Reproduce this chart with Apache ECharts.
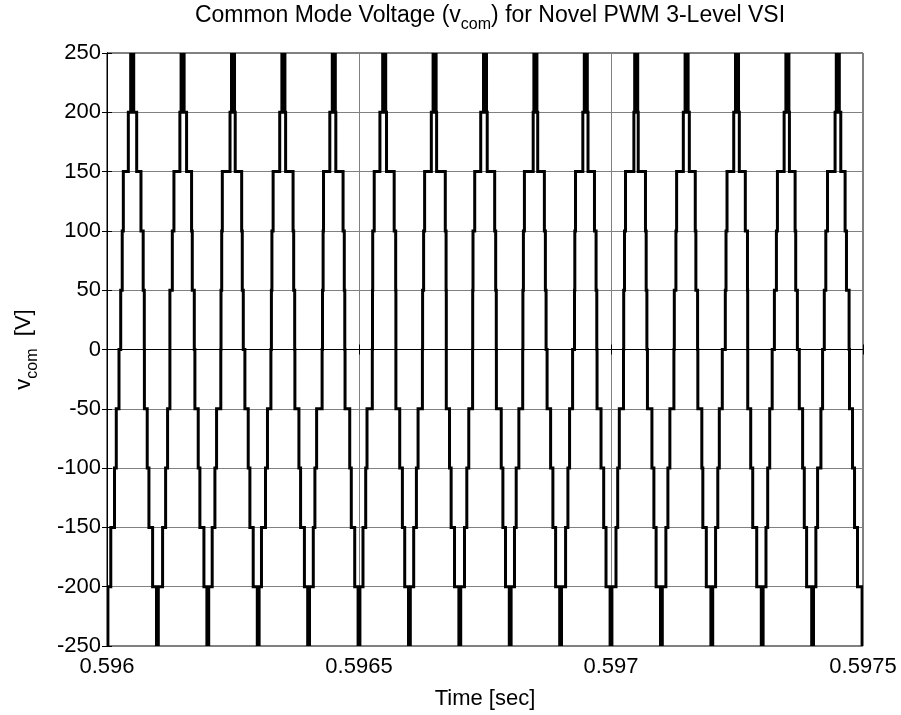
<!DOCTYPE html>
<html>
<head>
<meta charset="utf-8">
<script src="https://cdn.jsdelivr.net/npm/echarts@6/dist/echarts.min.js"></script>
<style>
html,body{margin:0;padding:0;background:#fff;}
#c{width:901px;height:715px;}
</style>
</head>
<body>
<div id="c"></div>
<script>
// ---- data (time in microseconds after 0.596 s) ----
const levels = [-250, -200, -150, -100, -50, 0, 50, 100, 150, 200, 250];
const valleyUs = [0, 100, 200, 300, 400, 500, 600, 700, 800, 900, 1000, 1100, 1200, 1300, 1400, 1500];
const peakUs = [50, 150, 250, 350, 450, 550, 650, 750, 850, 950, 1050, 1150, 1250, 1350, 1450];
const xTicks = ['0.596', '0.5965', '0.597', '0.5975'];
// delay after valley for rising steps through bands -250..0 (per period)
const valleyLag = [
  [1.8, 7.5, 14.9, 18.4, 23.8],
  [1.8, 10.3, 16.3, 20.2, 24.8],
  [1.8, 8.7, 14.1, 17.4, 25.8],
  [1.8, 6.5, 14.5, 18.4, 25.2],
  [1.8, 9.3, 12.5, 15.9, 26.8],
  [1.8, 7.9, 13.3, 15.9, 26.4],
  [1.8, 8.5, 13.9, 17.2, 25.8],
  [1.8, 9.3, 13.9, 17.8, 25.4],
  [1.8, 8.5, 11.9, 17.2, 24.8],
  [1.8, 9.9, 14.5, 17.8, 23.8],
  [1.8, 9.9, 13.3, 16.5, 24.8],
  [1.8, 8.9, 12.9, 16.8, 24.8],
  [1.8, 7.5, 11.9, 14.9, 20.8],
  [1.8, 7.5, 10.9, 14.9, 19.8],
  [1.8, 6.5, 9.9, 16.5, 19.8]
];
// lead before peak for rising steps through bands 0..250
const peakLead = [
  [22.8, 19.8, 17.6, 7.7, 3.0],
  [25.2, 20.4, 17.2, 5.4, 3.0],
  [23.8, 22.4, 21.2, 5.9, 3.0],
  [23.8, 22.8, 20.4, 7.3, 3.0],
  [22.4, 21.2, 20.4, 7.9, 3.0],
  [23.2, 22.8, 19.8, 8.5, 3.0],
  [23.8, 21.8, 19.8, 6.5, 3.0],
  [24.4, 23.8, 20.4, 8.5, 3.0],
  [24.8, 23.8, 21.8, 4.4, 3.0],
  [22.4, 21.8, 20.4, 5.9, 3.0],
  [24.8, 23.2, 21.2, 4.6, 3.0],
  [24.4, 21.2, 19.8, 6.5, 3.0],
  [23.2, 21.8, 19.8, 6.5, 3.0],
  [25.8, 21.8, 19.8, 6.5, 3.0],
  [26.8, 23.8, 20.4, 5.4, 3.0]
];
// lag after peak for falling steps through bands 250..0
const peakLag = [
  [24.0, 21.8, 17.4, 8.9, 3.0],
  [23.2, 19.2, 17.8, 7.9, 3.0],
  [20.4, 18.4, 17.2, 4.4, 3.0],
  [22.4, 20.4, 19.2, 4.4, 3.0],
  [21.8, 20.8, 18.4, 4.0, 3.0],
  [23.2, 22.8, 19.8, 4.6, 3.0],
  [23.2, 22.8, 21.2, 4.0, 3.0],
  [22.4, 21.2, 19.2, 4.4, 3.0],
  [21.2, 19.8, 17.8, 4.6, 3.0],
  [21.8, 20.4, 17.2, 4.4, 3.0],
  [21.2, 19.8, 18.4, 4.0, 3.0],
  [21.8, 18.4, 17.2, 5.4, 3.0],
  [21.2, 20.8, 16.5, 4.6, 3.0],
  [19.8, 16.5, 15.3, 4.0, 3.0],
  [22.4, 17.2, 14.5, 5.9, 3.0]
];
// lead before next valley for falling steps through bands 0..-250
const valleyLead = [
  [1.8, 9.5, 16.8, 20.2, 25.8],
  [1.8, 7.7, 15.7, 19.0, 25.6],
  [1.8, 9.9, 16.5, 19.8, 26.4],
  [1.8, 8.3, 15.9, 19.2, 27.2],
  [1.8, 8.5, 15.3, 18.4, 27.7],
  [1.8, 9.3, 13.9, 19.2, 26.8],
  [1.8, 10.5, 17.2, 20.4, 26.8],
  [1.8, 9.3, 14.5, 17.8, 27.4],
  [1.8, 9.9, 15.3, 19.8, 26.8],
  [1.8, 9.9, 14.5, 19.8, 27.7],
  [1.8, 10.5, 14.9, 18.8, 27.7],
  [1.8, 10.9, 17.8, 19.8, 27.7],
  [1.8, 10.9, 18.8, 22.8, 28.7],
  [1.8, 11.9, 16.5, 19.8, 26.4],
  [1.8, 10.9, 16.8, 20.8, 26.8]
];

// ---- build the staircase ----
const pts = [[valleyUs[0], levels[0]]];
for (let k = 0; k < peakUs.length; k++) {
  for (let j = 0; j <= 4; j++) {
    const t = valleyUs[k] + valleyLag[k][j];
    pts.push([t, levels[j]], [t, levels[j + 1]]);
  }
  for (let j = 5; j <= 9; j++) {
    const t = peakUs[k] - peakLead[k][j - 5];
    pts.push([t, levels[j]], [t, levels[j + 1]]);
  }
  for (let j = 9; j >= 5; j--) {
    const t = peakUs[k] + peakLag[k][j - 5];
    pts.push([t, levels[j + 1]], [t, levels[j]]);
  }
  for (let j = 4; j >= 0; j--) {
    const t = valleyUs[k + 1] - valleyLead[k][j];
    pts.push([t, levels[j + 1]], [t, levels[j]]);
  }
}
pts.push([valleyUs[valleyUs.length - 1], levels[0]]);

const FONT = 'Liberation Sans, Arial, sans-serif';
const FS = 22;
const chart = echarts.init(document.getElementById('c'), null, {renderer: 'canvas'});
const gridCol = '#808080';
chart.setOption({
  animation: false,
  backgroundColor: '#fff',
  title: {
    text: '{a|Common Mode Voltage (v}{b|com}{a|) for Novel PWM 3-Level VSI}',
    left: 485, top: -2, textAlign: 'center',
    textStyle: {
      fontWeight: 'normal',
      rich: {
        a: {fontSize: 23, fontWeight: 'normal', fontFamily: FONT, color: '#000', lineHeight: 30, verticalAlign: 'bottom', padding: [0,0,6,0]},
        b: {fontSize: 16, fontWeight: 'normal', fontFamily: FONT, color: '#000', lineHeight: 30, verticalAlign: 'bottom'}
      }
    }
  },
  grid: {left: 107, right: 38, top: 53, bottom: 67, show: true, borderColor: '#000', borderWidth: 1},
  xAxis: [{
    type: 'value', min: 0, max: 1500, interval: 500,
    axisLine: {show: true, lineStyle: {color: '#000', width: 1}},
    axisTick: {show: true, inside: true, length: 5, lineStyle: {color: '#000'}},
    axisLabel: {color: '#000', fontSize: FS, fontFamily: FONT, margin: 10,
      formatter: v => xTicks[Math.round(v / 500)]},
    splitLine: {show: true, lineStyle: {color: gridCol, width: 1}},
    name: 'Time [sec]', nameLocation: 'middle', nameGap: 42,
    nameTextStyle: {color: '#000', fontSize: FS, fontFamily: FONT}
  }, {
    type: 'value', position: 'top', min: 0, max: 1500, interval: 500,
    axisLine: {show: true, lineStyle: {color: '#000'}},
    axisTick: {show: true, inside: true, length: 5, lineStyle: {color: '#000'}},
    axisLabel: {show: false}, splitLine: {show: false}
  }],
  yAxis: [{
    type: 'value', min: -250, max: 250, interval: 50,
    axisLine: {show: true, lineStyle: {color: '#000', width: 1}},
    axisTick: {show: true, inside: true, length: 5, lineStyle: {color: '#000'}},
    axisLabel: {color: '#000', fontSize: FS, fontFamily: FONT, margin: 6},
    splitLine: {show: true, lineStyle: {color: gridCol, width: 1}},
    name: '{a|v}{b|com}{a|  [V]}', nameLocation: 'middle', nameGap: 66, nameRotate: 90,
    nameTextStyle: {
      rich: {
        a: {fontSize: FS, fontFamily: FONT, color: '#000', lineHeight: 30, verticalAlign: 'bottom', padding: [0,0,6,0]},
        b: {fontSize: 16, fontFamily: FONT, color: '#000', lineHeight: 30, verticalAlign: 'bottom'}
      }
    }
  }, {
    type: 'value', position: 'right', min: -250, max: 250, interval: 50,
    axisLine: {show: true, lineStyle: {color: '#000'}},
    axisTick: {show: true, inside: true, length: 5, lineStyle: {color: '#000'}},
    axisLabel: {show: false}, splitLine: {show: false}
  }],
  series: [{
    type: 'custom', coordinateSystem: 'cartesian2d', xAxisIndex: 0, yAxisIndex: 0,
    data: [[0, 0]], clip: true, silent: true,
    renderItem: function (params, api) {
      return {
        type: 'polyline',
        shape: {points: pts.map(p => api.coord(p))},
        style: {stroke: '#000', lineWidth: 3, fill: null, lineJoin: 'miter'}
      };
    }
  }]
});
</script>
</body>
</html>
